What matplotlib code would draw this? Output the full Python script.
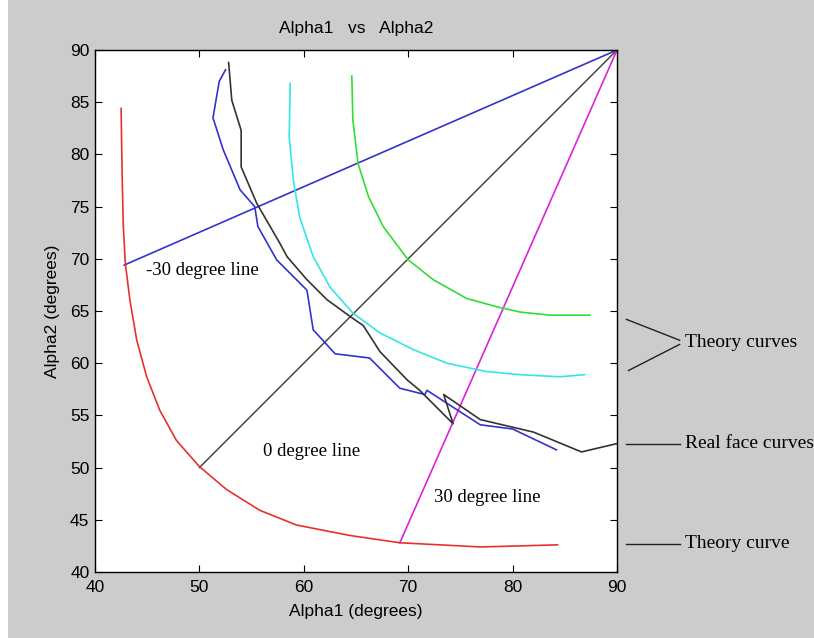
import matplotlib
matplotlib.use("Agg")
import matplotlib.pyplot as plt
from matplotlib.patches import Rectangle

# theory curves
red_x = [42.5, 42.6, 42.7, 42.9, 43.35, 44.0, 44.95, 46.2, 47.8, 50.0, 52.6, 55.8, 59.3,
         64.4, 69.2, 76.9, 80.7, 84.3]
red_y = [84.4, 78.0, 73.4, 69.6, 66.0, 62.2, 58.7, 55.5, 52.6, 50.1, 47.9, 45.9, 44.5,
         43.5, 42.8, 42.4, 42.5, 42.6]

cyan_x = [58.7, 58.6, 59.0, 59.6, 60.9, 62.5, 64.7, 67.3, 70.5, 73.7, 77.5, 80.7, 84.5, 86.9]
cyan_y = [86.8, 81.7, 77.5, 74.0, 70.2, 67.3, 64.8, 62.9, 61.3, 60.0, 59.2, 58.9, 58.7, 58.9]

green_x = [64.6, 64.7, 65.2, 66.2, 67.6, 70.0, 72.4, 75.6, 78.5, 80.7, 83.6, 87.4]
green_y = [87.5, 83.3, 79.1, 75.95, 73.1, 69.9, 68.0, 66.2, 65.4, 64.9, 64.6, 64.6]

# real face curves
black_x = [52.8, 53.1, 54.0, 54.0, 55.5, 57.7, 58.4, 60.3, 62.2, 64.4, 65.7, 67.3, 69.9, 71.1,
           74.3, 73.4, 76.9, 82.0, 86.6, 90.0]
black_y = [88.8, 85.2, 82.3, 78.8, 75.3, 71.5, 70.2, 68.0, 66.1, 64.5, 63.6, 61.1, 58.4, 57.4,
           54.2, 57.0, 54.6, 53.4, 51.5, 52.3]

blue_x = [52.5, 51.9, 51.3, 52.3, 53.9, 55.3, 55.6, 57.4, 60.3, 60.9, 63.0, 66.3, 69.2, 71.6,
          71.8, 76.9, 80.0, 84.2]
blue_y = [88.1, 87.0, 83.5, 80.4, 76.6, 75.0, 73.1, 69.9, 67.0, 63.2, 60.9, 60.5, 57.6, 57.0,
          57.4, 54.1, 53.7, 51.7]

# degree lines, all ending at (90, 90)
m30_x, m30_y = [42.8, 90], [69.4, 90]
z_x, z_y = [50.0, 90], [50.0, 90]
p30_x, p30_y = [69.2, 90], [42.8, 90]

plt.rcParams['font.family'] = ['Liberation Sans', 'DejaVu Sans']

fig = plt.figure(figsize=(8.14, 6.38), dpi=100, facecolor="#cccccc")
fig.patches.append(Rectangle((0, 0), 8 / 814, 1, transform=fig.transFigure,
                             facecolor="white", edgecolor="none"))
ax = fig.add_axes([95 / 814, 66 / 638, 522 / 814, 522 / 638])
ax.set_facecolor("white")

lw = 1.2
ax.plot(m30_x, m30_y, color="#3333cc", lw=lw)
ax.plot(z_x, z_y, color="#444444", lw=lw * 0.9)
ax.plot(p30_x, p30_y, color="#dd22dd", lw=lw)
ax.plot(red_x, red_y, color="#e83030", lw=lw)
ax.plot(cyan_x, cyan_y, color="#33e6e6", lw=lw)
ax.plot(green_x, green_y, color="#33dd33", lw=lw)
ax.plot(blue_x, blue_y, color="#3333cc", lw=lw)
ax.plot(black_x, black_y, color="#333333", lw=lw)

ax.set_xlim(40, 90)
ax.set_ylim(40, 90)
ax.set_xticks(range(40, 91, 10))
ax.set_yticks(range(40, 91, 5))
ax.tick_params(direction="in", top=True, right=True, length=5, labelsize=12.5)
ax.tick_params(axis="x", pad=6)
ax.tick_params(axis="y", pad=4)
for s in ax.spines.values():
    s.set_linewidth(1.0)

ax.set_title("Alpha1   vs   Alpha2", fontsize=12.5, pad=12)
ax.set_xlabel("Alpha1 (degrees)", fontsize=12.5, labelpad=6)
ax.set_ylabel("Alpha2 (degrees)", fontsize=12.5, labelpad=7)

serif = "Liberation Serif"
fs = 13.5
ax.text(50.3, 68.9, "-30 degree line", family=serif, fontsize=fs, ha="center", va="center")
ax.text(60.7, 51.5, "0 degree line", family=serif, fontsize=fs, ha="center", va="center")
ax.text(77.6, 47.1, "30 degree line", family=serif, fontsize=fs, ha="center", va="center")

# annotations outside the axes
ax.plot([90.9, 96.0], [64.2, 62.2], color="#222222", lw=1, clip_on=False)
ax.plot([91.1, 96.0], [59.3, 61.8], color="#222222", lw=1, clip_on=False)
ax.text(96.5, 62.0, "Theory curves", family=serif, fontsize=14, va="center", clip_on=False)
ax.plot([90.9, 96.0], [52.3, 52.3], color="#222222", lw=1, clip_on=False)
ax.text(96.5, 52.3, "Real face curves", family=serif, fontsize=14, va="center", clip_on=False)
ax.plot([90.9, 96.0], [42.7, 42.7], color="#222222", lw=1, clip_on=False)
ax.text(96.5, 42.7, "Theory curve", family=serif, fontsize=14, va="center", clip_on=False)

fig.savefig("out.png", dpi=100, facecolor=fig.get_facecolor())
